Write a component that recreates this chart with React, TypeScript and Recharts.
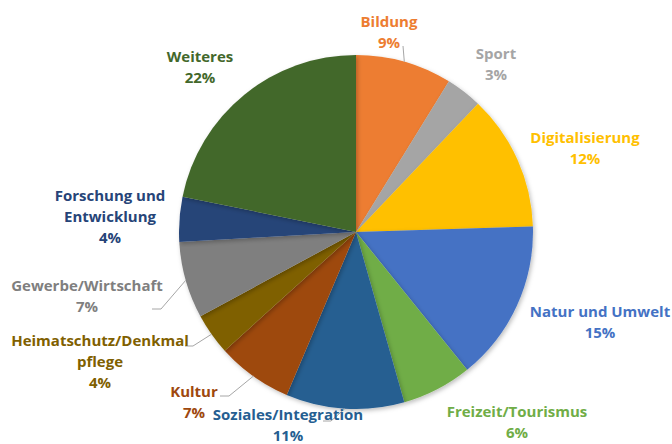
import React from "react";
import { PieChart, Pie, Cell } from "recharts";

const categories = [
  "Bildung",
  "Sport",
  "Digitalisierung",
  "Natur und Umwelt",
  "Freizeit/Tourismus",
  "Soziales/Integration",
  "Kultur",
  "Heimatschutz/Denkmalpflege",
  "Gewerbe/Wirtschaft",
  "Forschung und Entwicklung",
  "Weiteres",
];
const values = [8.8, 3.3, 12.4, 14.7, 6.4, 10.8, 6.9, 3.8, 7.0, 4.1, 21.8];
const labelLines = [
  ["Bildung"],
  ["Sport"],
  ["Digitalisierung"],
  ["Natur und Umwelt"],
  ["Freizeit/Tourismus"],
  ["Soziales/Integration"],
  ["Kultur"],
  ["Heimatschutz/Denkmal", "pflege"],
  ["Gewerbe/Wirtschaft"],
  ["Forschung und", "Entwicklung"],
  ["Weiteres"],
];

const sliceColors = [
  "#ED7D31", "#A5A5A5", "#FFC000", "#4472C4", "#70AD47", "#255E91",
  "#9E480E", "#7F6000", "#7F7F7F", "#264478", "#43682B",
];
const textColors = [
  "#ED7D31", "#A5A5A5", "#FFC000", "#4472C4", "#70AD47", "#255E91",
  "#9E480E", "#7F6000", "#7F7F7F", "#264478", "#43682B",
];

// label block centre offsets relative to pie centre
const labelOffsets: [number, number][] = [
  [33, -201], [140, -169], [229, -85], [244, 89], [161, 189.5], [-68, 192],
  [-162, 169.5], [-256, 129], [-269, 63], [-246, -16], [-156, -166],
];
// leader line points (relative to pie centre) before reaching slice edge
const leaders: ([number, number][] | null)[] = [
  [[47, -186]], null, null, null, null, [[-33, 189], [-25, 189]],
  [[-136, 164], [-127, 164]], [[-171, 114], [-163, 114]], [[-204, 77], [-195, 77]], null, null,
];

const data = categories.map((name, i) => ({ name, value: values[i] }));
const RAD = Math.PI / 180;
const LINE_H = 21;

const renderLabel = (props: any) => {
  const { cx, cy, midAngle, outerRadius, index, value } = props;
  const [dx, dy] = labelOffsets[index];
  const lines = [...labelLines[index], `${Math.round(value)}%`];
  const x = cx + dx;
  const y0 = cy + dy - ((lines.length - 1) * LINE_H) / 2;
  const lead = leaders[index];
  let poly: string | null = null;
  if (lead) {
    const ex = cx + outerRadius * Math.cos(-midAngle * RAD);
    const ey = cy + outerRadius * Math.sin(-midAngle * RAD);
    poly = lead.map(([a, b]) => `${cx + a},${cy + b}`).join(" ") + ` ${ex},${ey}`;
  }
  return (
    <g key={`lbl-${index}`}>
      {poly && <polyline points={poly} fill="none" stroke="#A6A6A6" strokeWidth={1} />}
      <text
        x={x}
        y={y0}
        textAnchor="middle"
        fill={textColors[index]}
        fontFamily="'Open Sans', sans-serif"
        fontWeight={700}
        fontSize={15}
      >
        {lines.map((l, k) => (
          <tspan key={k} x={x} y={y0 + k * LINE_H} dominantBaseline="central">
            {l}
          </tspan>
        ))}
      </text>
    </g>
  );
};

export default function App() {
  return (
    <div style={{ position: "absolute", left: 0, top: 0, width: 672, height: 444, background: "#fff" }}>
      <PieChart width={672} height={444} margin={{ top: 0, right: 0, bottom: 0, left: 0 }}>
        <defs>
          <filter id="shadow" x="-10%" y="-10%" width="120%" height="120%">
            <feDropShadow dx="1.5" dy="2" stdDeviation="2" floodColor="#000" floodOpacity="0.25" />
          </filter>
        </defs>
        <Pie
          data={data}
          dataKey="value"
          nameKey="name"
          cx={356}
          cy={232}
          outerRadius={177}
          startAngle={90}
          endAngle={-270}
          stroke="none"
          label={renderLabel}
          labelLine={false}
          isAnimationActive={false}
          style={{ filter: "url(#shadow)" }}
        >
          {data.map((_, i) => (
            <Cell key={i} fill={sliceColors[i]} />
          ))}
        </Pie>
      </PieChart>
    </div>
  );
}
